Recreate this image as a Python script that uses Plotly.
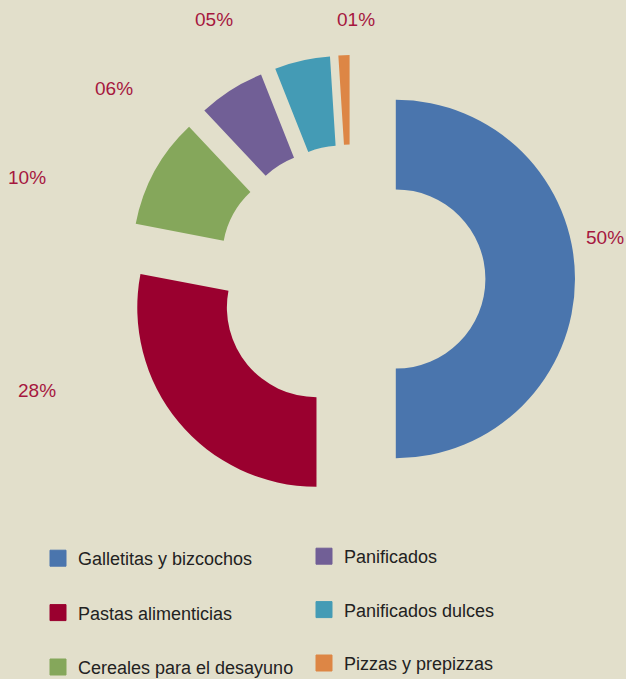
import plotly.graph_objects as go

categories = ["Galletitas y bizcochos", "Pastas alimenticias", "Cereales para el desayuno",
              "Panificados", "Panificados dulces", "Pizzas y prepizzas"]
shares = [50, 28, 10, 6, 5, 1]
colors = ["#4a75ad", "#9a002f", "#85a75b", "#715f96", "#449bb5", "#dd8645"]
pct_labels = [f"{v:02d}%" for v in shares]

# label placement (layout only, pixel centres in the 626x679 figure)
label_xy = [(605, 237), (36.5, 390.5), (26.5, 178), (113.5, 89), (214, 19), (356, 19)]

BG = "#e2dfcb"
FONT = "Liberation Sans"
W, H = 626, 679

fig = go.Figure()
fig.add_trace(go.Pie(
    labels=categories, values=shares, textinfo="none",
    marker=dict(colors=colors, line=dict(width=0)),
    hole=0.5, pull=[0.25] * len(shares), sort=False, direction="clockwise", rotation=0,
    domain=dict(x=[127 / W, 575 / W], y=[176 / H, 624 / H]),
    showlegend=False, hoverinfo="label+percent",
))

for txt, (px, py) in zip(pct_labels, label_xy):
    fig.add_annotation(text=txt, x=px / W, y=1 - py / H, xref="paper", yref="paper",
                       xanchor="center", yanchor="middle", showarrow=False,
                       font=dict(color="#a6173f", size=19, family=FONT))

# legend entries (two columns of three)
for i, (cat, col) in enumerate(zip(categories, colors)):
    fig.add_trace(go.Scatter(
        x=[None], y=[None], mode="markers", name=cat,
        marker=dict(symbol="square", size=16, color=col, line=dict(width=1, color=col)),
        legend="legend" if i < 3 else "legend2", legendgroup=f"g{i}",
    ))

legend_common = dict(font=dict(family=FONT, size=18, color="#222222"),
                     bgcolor="rgba(0,0,0,0)", yanchor="top", orientation="v")
fig.update_layout(
    width=W, height=H, margin=dict(l=0, r=0, t=0, b=0, autoexpand=False),
    paper_bgcolor=BG, plot_bgcolor=BG,
    xaxis=dict(visible=False), yaxis=dict(visible=False),
    legend=dict(x=38 / W, y=1 - 540 / H, tracegroupgap=28, **legend_common),
    legend2=dict(x=304 / W, y=1 - 538 / H, tracegroupgap=27, **legend_common),
)
fig.write_html("out.html", config={"displayModeBar": False},
               post_script="document.body.style.margin='0';document.body.style.overflow='hidden';")
